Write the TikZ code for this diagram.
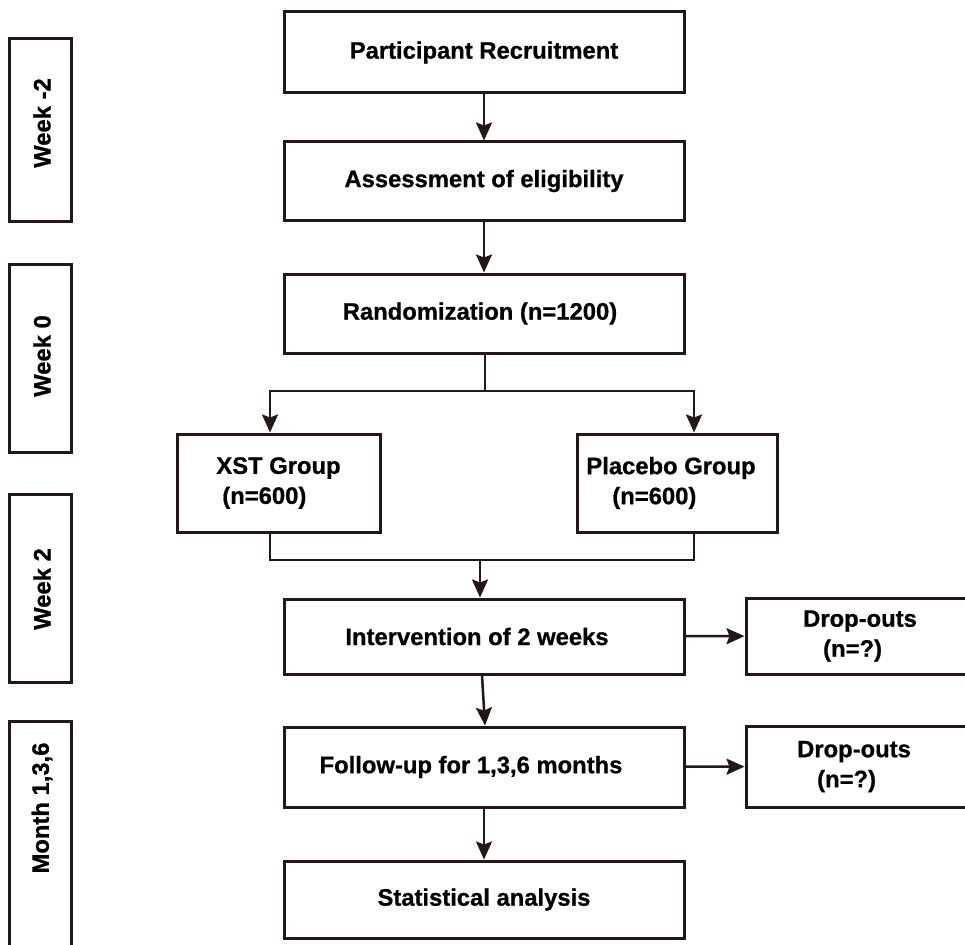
\documentclass[tikz,border=0pt]{standalone}
\usepackage{fontspec}
\setmainfont{Liberation Sans}[BoldFeatures={FakeBold=0.8}]
\usetikzlibrary{arrows.meta}
\definecolor{ink}{RGB}{35,24,21}
\begin{document}
\begin{tikzpicture}[x=1pt,y=-1pt,
  box/.style={draw=ink, line width=3pt, inner sep=0pt, font=\fontsize{23.8}{30}\selectfont\bfseries, text=black},
  lbl/.style={inner sep=0pt, font=\fontsize{23.8}{30}\selectfont\bfseries, text=black},
  conn/.style={draw=ink, line width=2.5pt},
  arr/.style={conn, -{Stealth[length=18pt,width=16pt,inset=3pt]}}]
\useasboundingbox (0,0) rectangle (965,944);
% timeline boxes
\node[box, minimum width=62pt, minimum height=182pt] (w1) at (40,130) {};
\node[box, minimum width=62pt, minimum height=188pt] (w2) at (40,358) {};
\node[box, minimum width=62pt, minimum height=188pt] (w3) at (40,588) {};
\node[box, minimum width=62pt, minimum height=239pt] (w4) at (40,840.5) {};
\node[lbl, rotate=90] (w1t) at (42,123) {Week -2};
\node[lbl, rotate=90] (w2t) at (42,356) {Week 0};
\node[lbl, rotate=90] (w3t) at (42,589) {Week 2};
\node[lbl, rotate=90] (w4t) at (42,808) {Month 1,3,6};
% main flow
\node[box, minimum width=400pt, minimum height=81pt] (rec) at (484,52.5) {\raisebox{-2pt}{Participant Recruitment}};
\node[box, minimum width=400pt, minimum height=78pt] (elig) at (484,181) {\raisebox{-2pt}{Assessment of eligibility}};
\node[box, minimum width=400pt, minimum height=79pt] (rand) at (484,313.5) {\hspace*{-8pt}\raisebox{-2pt}{Randomization (n=1200)}};
\node[box, minimum width=203pt, minimum height=98pt, align=left] (xst) at (278.5,483) {XST Group\\\hspace*{6pt}(n=600)};
\node[box, minimum width=200pt, minimum height=98pt, align=left] (plac) at (677,483) {Placebo Group\hspace*{12pt}\\\hspace*{26pt}(n=600)};
\node[box, minimum width=400pt, minimum height=75pt] (interv) at (484,636.5) {\hspace*{-14pt}\raisebox{-2pt}{Intervention of 2 weeks}};
\node[box, minimum width=400pt, minimum height=80pt] (follow) at (484,767) {\hspace*{-26pt}\raisebox{-2pt}{Follow-up for 1,3,6 months}};
\node[box, minimum width=400pt, minimum height=77pt] (stats) at (484,899.5) {\raisebox{-2pt}{Statistical analysis}};
\node[box, minimum width=234pt, minimum height=76pt, align=left] (drop1) at (863,636) {Drop-outs\hspace*{6pt}\\\hspace*{20pt}(n=?)};
\node[box, minimum width=234pt, minimum height=81pt, align=left] (drop2) at (863,766.5) {Drop-outs\hspace*{18pt}\\\hspace*{20pt}(n=?)};
% connectors
\draw[arr] (rec) -- (elig);
\draw[arr] (elig) -- (rand);
\coordinate (sp) at (485,391);
\coordinate (mg) at (480,560);
\draw[conn] (rand.south -| sp) -- (sp);
\draw[arr] (sp) -| ([xshift=-8.5pt]xst.north);
\draw[arr] (sp) -| ([xshift=17pt]plac.north);
\draw[conn] ([xshift=-8.5pt]xst.south) |- (mg) -| ([xshift=17pt]plac.south);
\draw[arr] (mg) -- (interv.north -| mg);
\draw[arr] ([xshift=-2pt]interv.south) -- ([xshift=1pt]follow.north);
\draw[arr] (follow) -- (stats);
\draw[arr] (interv) -- (drop1);
\draw[arr] (follow) -- (drop2);
\end{tikzpicture}
\end{document}
